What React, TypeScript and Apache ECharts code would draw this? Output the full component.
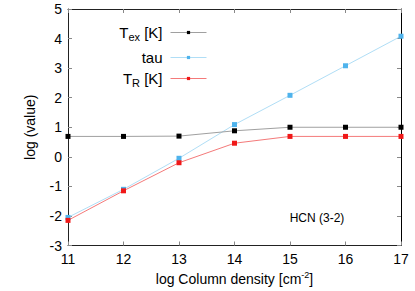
import React, { useEffect, useRef } from "react";
import * as echarts from "echarts";

const columnDensity = [11, 12, 13, 14, 15, 16, 17];
const texValues = [0.69, 0.69, 0.70, 0.88, 1.0, 1.0, 1.0];
const tauValues = [-2.05, -1.1, -0.05, 1.09, 2.08, 3.08, 4.08];
const trValues = [-2.15, -1.15, -0.2, 0.46, 0.69, 0.69, 0.69];
const seriesNames = ["T_ex [K]", "tau", "T_R [K]"];
const legendLabels = ["T{sub|ex} [K]", "tau", "T{sub|R} [K]"];
const annotation = "HCN (3-2)";

const FONT = "Liberation Sans, Arial, sans-serif";
const pointColors = ["#000000", "#4fb3ec", "#f01818"];
const lineColors = ["#a0a0a0", "#b0def6", "#f47a7a"];

export default function App() {
  const ref = useRef<HTMLDivElement>(null);
  useEffect(() => {
    if (!ref.current) return;
    const chart = echarts.init(ref.current, undefined, { renderer: "svg" });
    const pair = (vals: number[]) => columnDensity.map((x, i) => [x, vals[i]]);
    const rich = {
      sub: { fontSize: 11, verticalAlign: "bottom", padding: [9, 0, 0, 0], fontFamily: FONT, color: "#000" },
      sup: { fontSize: 9, padding: [0, 0, 8, 0], fontFamily: FONT, color: "#000" },
    };
    const mkLegend = (i: number, top: number) => ({
      data: [seriesNames[i]],
      right: 208,
      top,
      align: "right",
      orient: "vertical",
      itemWidth: 36,
      itemHeight: 4,
      padding: 0,
      lineStyle: { color: lineColors[i], width: 1 },
      itemStyle: { color: pointColors[i] },
      formatter: () => legendLabels[i],
      textStyle: { fontSize: 15, color: "#000", fontFamily: FONT, padding: [0, 3, 0, 0], rich },
    });
    const axisCommon = {
      type: "value",
      axisLine: { show: true, onZero: false, lineStyle: { color: "#222", width: 1 } },
      axisTick: { show: true, inside: true, length: 4, lineStyle: { color: "#888" } },
      splitLine: { show: false },
    };
    chart.setOption({
      animation: false,
      backgroundColor: "#fff",
      textStyle: { fontFamily: FONT },
      grid: { left: 68, right: 14, top: 9, bottom: 41 },
      legend: [mkLegend(0, 25), mkLegend(1, 50), mkLegend(2, 71)],
      xAxis: [
        {
          ...axisCommon,
          min: 11,
          max: 17,
          interval: 1,
          axisLabel: { fontSize: 14, color: "#000", margin: 6, fontFamily: FONT },
          name: "log Column density [cm{sup|-2}]",
          nameLocation: "middle",
          nameGap: 25,
          nameTextStyle: { fontSize: 14, color: "#000", fontFamily: FONT, rich },
        },
        {
          ...axisCommon,
          position: "top",
          min: 11,
          max: 17,
          interval: 1,
          axisLabel: { show: false },
        },
      ],
      yAxis: [
        {
          ...axisCommon,
          min: -3,
          max: 5,
          interval: 1,
          axisLabel: { fontSize: 14, color: "#000", margin: 6, fontFamily: FONT },
          name: "log (value)",
          nameLocation: "middle",
          nameGap: 31,
          nameTextStyle: { fontSize: 14, color: "#000", fontFamily: FONT },
        },
        {
          ...axisCommon,
          position: "right",
          min: -3,
          max: 5,
          interval: 1,
          axisLine: { show: true, onZero: false, lineStyle: { color: "#000", width: 1 } },
          axisLabel: { show: false },
        },
      ],
      series: [texValues, tauValues, trValues].map((vals, i) => ({
        name: seriesNames[i],
        type: "line",
        data: pair(vals),
        symbol: "rect",
        symbolSize: 5,
        itemStyle: { color: pointColors[i] },
        lineStyle: { color: lineColors[i], width: 1 },
        z: i === 0 ? 3 : 2,
      })),
      graphic: [
        {
          type: "text",
          x: 317,
          y: 218,
          style: {
            text: annotation,
            fontSize: 12,
            fontFamily: FONT,
            fill: "#000",
            align: "center",
            verticalAlign: "middle",
          },
        },
      ],
    });
    return () => chart.dispose();
  }, []);
  return (
    <div
      ref={ref}
      style={{ width: 415, height: 291, position: "absolute", left: 0, top: 0 }}
    />
  );
}
